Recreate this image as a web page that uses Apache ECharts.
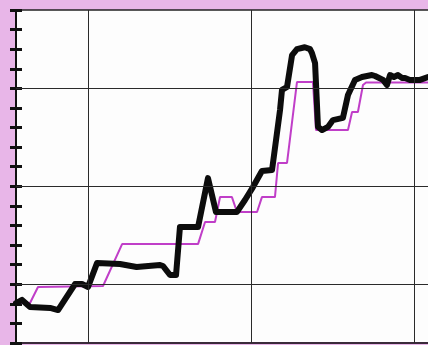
<!DOCTYPE html>
<html>
<head>
<meta charset="utf-8">
<script src="https://cdn.jsdelivr.net/npm/echarts@6/dist/echarts.min.js"></script>
<style>
  html, body { margin: 0; padding: 0; background: #e8b6e8; }
  #main { width: 428px; height: 345px; }
</style>
</head>
<body>
<div id="main"></div>
<script>
// measured curve (thick black)
const measuredX = [-4.42, -4.05, -3.56, -2.33, -1.84, -0.8, -0.37, 0, 0.55, 1.96, 2.98, 4.42, 4.6, 5.03, 5.4, 5.64, 6.75, 7.36, 7.85, 9.14, 9.63, 10.12, 10.67, 11.29, 11.78, 11.9, 12.21, 12.52, 12.82, 13.3, 13.62, 13.74, 13.93, 14.11, 14.36, 14.72, 15.03, 15.64, 15.95, 16.38, 16.81, 17.42, 17.61, 18.1, 18.34, 18.53, 18.77, 19.02, 19.26, 19.45, 19.75, 20.37, 20.86];
const measuredY = [-0.96, -0.8, -1.16, -1.21, -1.32, 0.01, 0.01, -0.14, 1.08, 1.03, 0.88, 0.98, 0.93, 0.47, 0.47, 2.92, 2.92, 5.42, 3.69, 3.69, 4.3, 4.96, 5.78, 5.83, 8.89, 9.92, 10.07, 11.7, 12.0, 12.1, 12.0, 11.8, 11.29, 8.03, 7.87, 8.03, 8.38, 8.49, 9.66, 10.43, 10.58, 10.68, 10.63, 10.43, 10.17, 10.68, 10.58, 10.68, 10.53, 10.53, 10.43, 10.43, 10.58];

// reference curve (thin magenta steps)
const referenceX = [-4.42, -3.56, -3.07, 0.92, 2.09, 6.75, 7.18, 7.79, 8.1, 8.83, 9.14, 10.37, 10.67, 11.47, 11.66, 12.21, 12.82, 13.8, 13.99, 15.95, 16.2, 16.56, 16.87, 17.06, 20.86];
const referenceY = [-0.96, -0.96, -0.14, -0.09, 2.05, 2.05, 3.18, 3.18, 4.45, 4.45, 3.69, 3.69, 4.45, 4.45, 6.19, 6.19, 10.32, 10.32, 7.87, 7.87, 8.79, 8.79, 10.17, 10.3, 10.3];

// grid lines
const gridX = [0, 10, 20];
const gridY = [0, 5, 10];

const pairs = (xs, ys) => xs.map((x, i) => [x, ys[i]]);

const chart = echarts.init(document.getElementById('main'));
const xRange = { min: -4.42, max: 20.86 };
const yRange = { min: -3, max: 14, interval: 1 };

const option = {
    animation: false,
    backgroundColor: '#e8b6e8',
    grid: {
        left: 16, top: 10, right: 0, bottom: 2,
        show: true, backgroundColor: '#fdfdfd', borderWidth: 0
    },
    xAxis: [
        {
            type: 'value', position: 'bottom', ...xRange,
            axisLine: { show: true, onZero: false, lineStyle: { color: '#3a2a3a', width: 2 } },
            axisTick: { show: false }, axisLabel: { show: false }, splitLine: { show: false }
        },
        {
            type: 'value', position: 'top', ...xRange,
            axisLine: { show: true, onZero: false, lineStyle: { color: '#222', width: 1.5 } },
            axisTick: { show: false }, axisLabel: { show: false }, splitLine: { show: false }
        }
    ],
    yAxis: [
        {
            type: 'value', position: 'left', ...yRange,
            axisLine: { show: true, onZero: false, lineStyle: { color: '#111', width: 2 } },
            axisTick: { show: true, inside: true, length: 6, lineStyle: { color: '#111', width: 3 } },
            axisLabel: { show: false }, splitLine: { show: false }
        },
        {
            type: 'value', position: 'left', offset: 0, ...yRange,
            axisLine: { show: true, onZero: false, lineStyle: { color: '#111', width: 2 } },
            axisTick: { show: true, inside: false, length: 6, lineStyle: { color: '#111', width: 3 } },
            axisLabel: { show: false }, splitLine: { show: false }
        }
    ],
    series: [
        {
            type: 'line', data: [], z: 1, silent: true,
            markLine: {
                silent: true, symbol: 'none', label: { show: false },
                lineStyle: { color: '#2a2a2a', width: 1, type: 'solid' },
                data: gridX.map(v => ({ xAxis: v })).concat(gridY.map(v => ({ yAxis: v })))
            }
        },
        {
            name: 'reference', type: 'line', z: 2,
            data: pairs(referenceX, referenceY),
            symbol: 'none',
            lineStyle: { color: '#c03ec8', width: 2 }
        },
        {
            name: 'measured', type: 'line', z: 3,
            data: pairs(measuredX, measuredY),
            symbol: 'none',
            lineStyle: { color: '#0c0c0c', width: 6, cap: 'round', join: 'round' }
        }
    ]
};
chart.setOption(option);
</script>
</body>
</html>
